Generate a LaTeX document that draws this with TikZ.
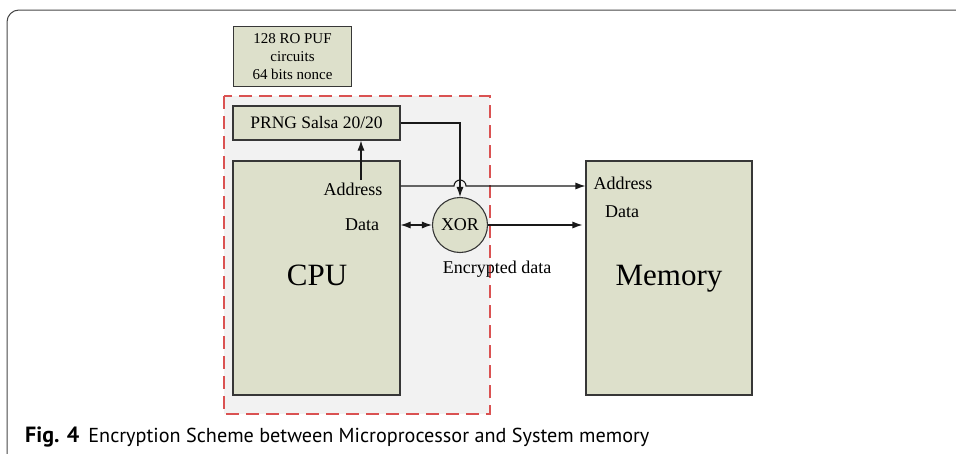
\documentclass[tikz,border=0pt]{standalone}
\usepackage{fontspec}
\setmainfont{Liberation Serif}
\newfontfamily\capfont{PT Sans}
\usetikzlibrary{arrows.meta}
\definecolor{boxfill}{RGB}{221,224,203}
\definecolor{boxline}{RGB}{55,55,55}
\definecolor{zonefill}{RGB}{242,242,242}
\definecolor{zoneline}{RGB}{218,82,82}
\definecolor{framecol}{RGB}{70,70,70}
\tikzset{
  blk/.style={draw=boxline, fill=boxfill, line width=1.1pt},
  lbl/.style={inner sep=0pt, font=\fontsize{18}{20}\selectfont},
  big/.style={inner sep=0pt, font=\fontsize{31}{34}\selectfont},
  wire/.style={draw=black!90, line width=1.1pt},
  tip/.style={-{Latex[length=10pt,width=7pt]}},
  dtip/.style={{Latex[length=10pt,width=7pt]}-{Latex[length=10pt,width=7pt]}},
}
\begin{document}
\begin{tikzpicture}[x=1pt,y=1pt]
\useasboundingbox (0,0) rectangle (956,-453);
% outer frame of the figure
\draw[framecol, line width=1pt, rounded corners=12pt] (7,-460) -- (7,-10) -- (960,-10);

% protected zone
\draw[zoneline, fill=zonefill, line width=1.4pt, dash pattern=on 13pt off 7pt]
  (224,-96) rectangle (490,-414);

% PUF block
\node[blk, minimum width=118pt, minimum height=60pt, inner sep=0pt, align=center,
  font=\fontsize{15}{18}\selectfont] (puf) at (292.5,-56.5)
  {128 RO PUF\\circuits\\64 bits nonce};

% PRNG, CPU, memory
\node[blk, minimum width=167pt, minimum height=34pt, inner sep=0pt,
  font=\fontsize{17.5}{20}\selectfont] (prng) at (316.5,-123) {PRNG Salsa 20/20};
\node[blk, minimum width=167pt, minimum height=234pt, inner sep=0pt] (cpu) at (316.5,-278) {};
\node[blk, minimum width=166pt, minimum height=234pt, inner sep=0pt] (mem) at (669,-278) {};
\node[big] (cputxt) at (317,-275) {CPU};
\node[big] (memtxt) at (669,-279) {Memory};

% labels inside the blocks
\node[lbl] (caddr) at (353,-189) {Address};
\node[lbl] (cdata) at (362,-225) {Data};
\node[lbl] (maddr) at (623,-183) {Address};
\node[lbl] (mdata) at (622,-212) {Data};

% XOR gate
\node[blk, circle, minimum size=55pt, inner sep=0pt, font=\fontsize{18}{20}\selectfont] (xor) at (460,-225) {XOR};
\node[lbl] (enc) at (497,-269) {Encrypted data};

% connectors
\coordinate (aup) at (361,-180);
\draw[wire, tip] (aup) -- (prng.south -| aup);
\draw[wire, tip] (prng.east) -- (prng.east -| xor.north) -- (xor.north);
\draw[wire, tip] (cpu.east |- 0,-186) -- (454,-186) arc[start angle=180, end angle=0, radius=6pt]
  -- (mem.west |- 0,-186);
\draw[wire, dtip] (cpu.east |- xor.west) -- (xor.west);
\draw[wire, tip] (xor.east) -- ([xshift=-3pt]mem.west |- xor.east);

% caption
\node[anchor=base west, inner sep=0pt, font=\capfont\fontsize{20.2}{24}\selectfont] (cap) at (25,-442)
  {{\fontsize{22}{24}\selectfont\bfseries Fig. 4}\hspace{9pt}Encryption Scheme between Microprocessor and System memory};
\end{tikzpicture}
\end{document}
